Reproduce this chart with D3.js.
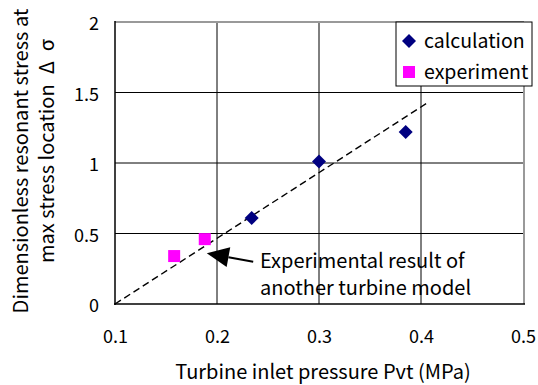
<!DOCTYPE html>
<html><head><meta charset="utf-8">
<script src="https://cdn.jsdelivr.net/npm/d3@7"></script>
<style>
html,body{margin:0;padding:0;background:#fff;}
svg{display:block;font-family:"Noto Sans CJK JP","Liberation Sans",sans-serif;}
</style></head>
<body>
<script>
const xTicks = [0.1, 0.2, 0.3, 0.4, 0.5];
const yTicks = [0, 0.5, 1, 1.5, 2];
const yTickLabels = ["0", "0.5", "1", "1.5", "2"];
const calcX = [0.234, 0.300, 0.385];
const calcY = [0.61, 1.01, 1.22];
const expX = [0.158, 0.188];
const expY = [0.34, 0.46];
const trendX = [0.1, 0.407];
const trendY = [0.0, 1.43];
const seriesNames = ["calculation", "experiment"];
const annotationLines = ["Experimental result of", "another turbine model"];
const xTitle = "Turbine inlet pressure Pvt (MPa)";
const yTitleLines = ["Dimensionless resonant stress at", "max stress location\u2002Δ\u2002σ"];

const W = 538, H = 385;
const L = 115, R = 523, T = 22, B = 304;
const svg = d3.select("body").append("svg").attr("width", W).attr("height", H);
const x = d3.scaleLinear().domain([0.1, 0.5]).range([L, R]);
const y = d3.scaleLinear().domain([0, 2]).range([B, T]);

// gridlines
const g = svg.append("g");
g.selectAll(".vx").data(xTicks.slice(1, -1)).join("line")
  .attr("x1", d => x(d)).attr("x2", d => x(d)).attr("y1", T).attr("y2", B)
  .attr("stroke", "#000").attr("stroke-width", 1);
g.selectAll(".hy").data(yTicks.slice(1, -1)).join("line")
  .attr("x1", L).attr("x2", R).attr("y1", d => y(d)).attr("y2", d => y(d))
  .attr("stroke", "#000").attr("stroke-width", 1);
// frame: top/right gray, left/bottom black
svg.append("line").attr("x1", L).attr("x2", R + 1).attr("y1", T).attr("y2", T).attr("stroke", "#999").attr("stroke-width", 2);
svg.append("line").attr("x1", R + 1).attr("x2", R + 1).attr("y1", T).attr("y2", B).attr("stroke", "#999").attr("stroke-width", 2);
svg.append("line").attr("x1", L).attr("x2", L).attr("y1", T - 1).attr("y2", B + 1).attr("stroke", "#000").attr("stroke-width", 1.5);
svg.append("line").attr("x1", L - 1).attr("x2", R + 2).attr("y1", B).attr("y2", B).attr("stroke", "#000").attr("stroke-width", 1.5);

// axes labels using d3 axes (no lines)
const xAxis = svg.append("g").attr("transform", `translate(0,${B})`)
  .call(d3.axisBottom(x).tickValues(xTicks).tickFormat(d3.format(".1f")).tickSize(0));
xAxis.select(".domain").remove();
xAxis.selectAll("text").attr("y", 39).attr("dy", 0).attr("font-size", 18).attr("fill", "#000")
  .attr("font-family", "Noto Sans CJK JP, sans-serif");
const yAxis = svg.append("g").attr("transform", `translate(${L},0)`)
  .call(d3.axisLeft(y).tickValues(yTicks).tickFormat((d, i) => yTickLabels[i]).tickSize(0).tickPadding(16));
yAxis.select(".domain").remove();
yAxis.selectAll("text").attr("dy", "0.42em").attr("font-size", 18).attr("fill", "#000")
  .attr("font-family", "Noto Sans CJK JP, sans-serif");

// trend line
svg.append("line")
  .attr("x1", x(trendX[0])).attr("y1", y(trendY[0])).attr("x2", x(trendX[1])).attr("y2", y(trendY[1]))
  .attr("stroke", "#000").attr("stroke-width", 1.4).attr("stroke-dasharray", "7,4");

// calculation diamonds
svg.selectAll(".calc").data(calcX.map((v, i) => [v, calcY[i]])).join("path")
  .attr("d", d3.symbol(d3.symbolSquare, 98)())
  .attr("transform", d => `translate(${x(d[0])},${y(d[1])}) rotate(45)`)
  .attr("fill", "#000080");
// experiment squares
svg.selectAll(".exp").data(expX.map((v, i) => [v, expY[i]])).join("rect")
  .attr("x", d => x(d[0]) - 6).attr("y", d => y(d[1]) - 6).attr("width", 12).attr("height", 12)
  .attr("fill", "#ff00ff");

// annotation arrow
const tip = [x(0.190), y(0.36)], tail = [x(0.2355), y(0.30)];
const ang = Math.atan2(tail[1] - tip[1], tail[0] - tip[0]);
const hl = 22, hw = 10;
const bx = tip[0] + hl * Math.cos(ang), by = tip[1] + hl * Math.sin(ang);
svg.append("line").attr("x1", bx).attr("y1", by).attr("x2", tail[0]).attr("y2", tail[1])
  .attr("stroke", "#000").attr("stroke-width", 2);
svg.append("path").attr("d", d3.line()([
  tip,
  [bx - hw * Math.sin(ang), by + hw * Math.cos(ang)],
  [bx + hw * Math.sin(ang), by - hw * Math.cos(ang)]
])).attr("fill", "#000");
svg.selectAll(".ann").data(annotationLines).join("text")
  .attr("x", 260).attr("y", (d, i) => 268 + i * 27)
  .attr("font-size", 20).attr("fill", "#000").text(d => d);

// legend
const lg = svg.append("g");
lg.append("rect").attr("x", 396).attr("y", 22).attr("width", 136).attr("height", 64)
  .attr("fill", "#fff").attr("stroke", "#000").attr("stroke-width", 1);
lg.append("path").attr("d", d3.symbol(d3.symbolSquare, 98)())
  .attr("transform", "translate(409,41) rotate(45)").attr("fill", "#000080");
lg.append("rect").attr("x", 403).attr("y", 66).attr("width", 12).attr("height", 12).attr("fill", "#ff00ff");
lg.selectAll(".lt").data(seriesNames).join("text")
  .attr("x", 424).attr("y", (d, i) => 48 + i * 31).attr("font-size", 19.5).attr("fill", "#000").text(d => d);

// axis titles
svg.append("text").attr("x", 323).attr("y", 379).attr("text-anchor", "middle")
  .attr("font-size", 20).attr("fill", "#000").text(xTitle);
svg.selectAll(".yt").data(yTitleLines).join("text")
  .attr("transform", (d, i) => `translate(${i === 0 ? 28 : 54},${i === 0 ? 161 : 151}) rotate(-90)`)
  .attr("text-anchor", "middle").attr("font-size", 20).attr("fill", "#000").text(d => d);
</script>
</body></html>
